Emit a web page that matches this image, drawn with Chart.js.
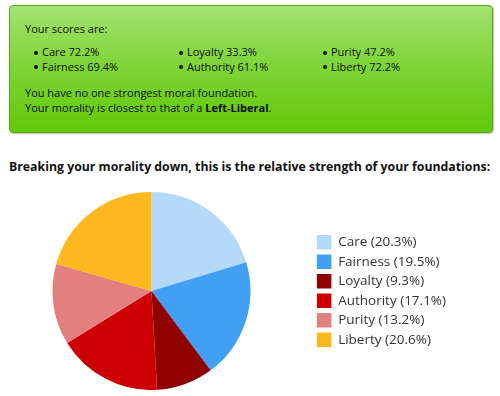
<!DOCTYPE html>
<html>
<head>
<meta charset="utf-8">
<script src="https://cdn.jsdelivr.net/npm/chart.js@4.4.1/dist/chart.umd.min.js"></script>
<style>
  html, body { margin: 0; padding: 0; background: #fff; width: 500px; height: 396px; overflow: hidden; font-family: "Open Sans", sans-serif; }
  #box { position: absolute; left: 9px; top: 5px; width: 482px; height: 126px; border: 1px solid #5aa91a; border-radius: 4px;
         background: linear-gradient(to bottom, #a4e271 0%, #7fd53a 45%, #62c807 100%); box-shadow: 1px 1px 1px rgba(0,0,0,0.25); }
  .t { position: absolute; font-size: 11px; line-height: 15px; color: #0d0d0d; white-space: nowrap; }
  .dot { position: absolute; width: 4px; height: 4px; border-radius: 2px; background: #0d0d0d; }
  #title { position: absolute; left: 9px; top: 158px; font-size: 12.3px; line-height: 18px; font-weight: bold; color: #111; white-space: nowrap; }
  #wrap { position: absolute; left: -9px; top: 192px; width: 465px; height: 198px; }
</style>
</head>
<body>
<div id="box"></div>
<div id="texts"></div>
<div id="title">Breaking your morality down, this is the relative strength of your foundations:</div>
<div id="wrap"><canvas id="c"></canvas></div>
<script>
const foundations = ["Care", "Fairness", "Loyalty", "Authority", "Purity", "Liberty"];
const scores = [72.2, 69.4, 33.3, 61.1, 47.2, 72.2];
const shares = [20.3, 19.5, 9.3, 17.1, 13.2, 20.6];
const colors = ["#b4d9f9", "#42a0f4", "#8f0000", "#cc0000", "#e47f7f", "#fdb81f"];

// Text block in green box
const texts = document.getElementById('texts');
function addText(html, x, baseline) {
  const d = document.createElement('div');
  d.className = 't';
  d.style.left = x + 'px';
  d.style.top = (baseline - 11.8) + 'px';
  d.innerHTML = html;
  texts.appendChild(d);
}
function addDot(cx, cy) {
  const d = document.createElement('div');
  d.className = 'dot';
  d.style.left = (cx - 2) + 'px';
  d.style.top = (cy - 2) + 'px';
  texts.appendChild(d);
}
addText("Your scores are:", 25, 33);
const colX = [35, 180, 324];
const rowBase = [56, 70.5];
foundations.forEach((f, i) => {
  const col = Math.floor(i / 2), row = i % 2;
  addDot(colX[col] + 0.5, rowBase[row] - 3.5);
  addText(f + " " + scores[i].toFixed(1) + "%", colX[col] + 7, rowBase[row]);
});
addText("You have no one strongest moral foundation.", 25, 97);
addText("Your morality is closest to that of a <b>Left-Liberal</b>.", 25, 112);

new Chart(document.getElementById('c'), {
  type: 'pie',
  data: {
    labels: foundations.map((f, i) => f + " (" + shares[i].toFixed(1) + "%)"),
    datasets: [{
      data: shares,
      backgroundColor: colors,
      borderWidth: 0
    }]
  },
  options: {
    responsive: true,
    maintainAspectRatio: false,
    animation: false,
    layout: { padding: 0 },
    plugins: {
      tooltip: { enabled: false },
      legend: {
        position: 'right',
        align: 'center',
        labels: {
          boxWidth: 14.5,
          boxHeight: 14.5,
          padding: 5,
          color: '#333',
          font: { family: "'Open Sans', sans-serif", size: 13.5 }
        }
      }
    }
  }
});
</script>
</body>
</html>
